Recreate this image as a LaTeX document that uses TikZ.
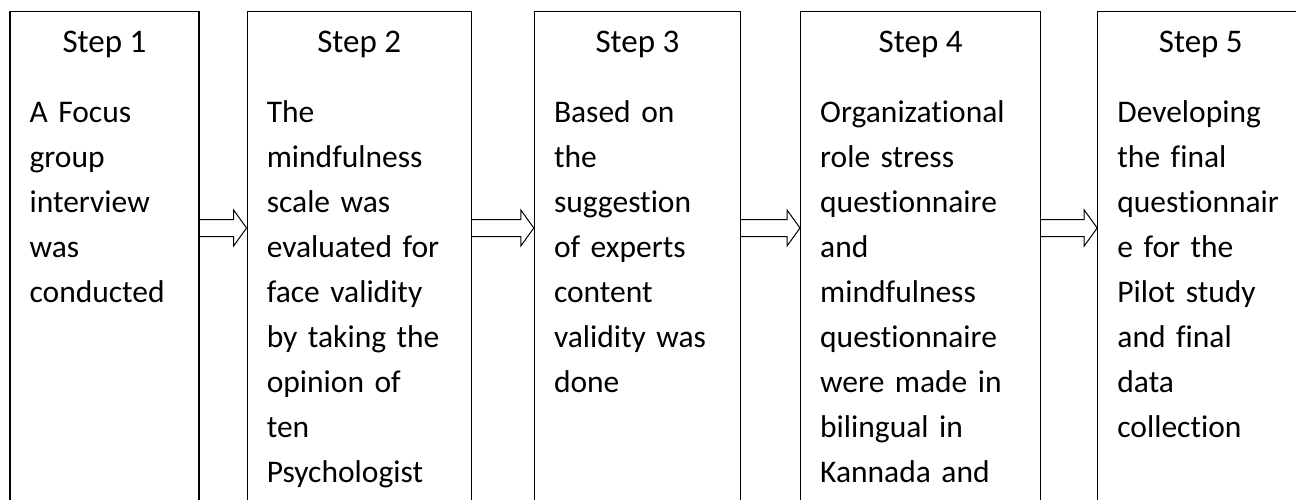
\documentclass[tikz,border=0pt]{standalone}
\usepackage{fontspec}
\setmainfont{Carlito}[Ligatures=NoCommon]
\usetikzlibrary{positioning, calc}

\begin{document}
\begin{tikzpicture} [x=1pt, y=1pt,
            font=\fontsize{31.5}{45}\selectfont,
            stepbox/.style = {draw, line width=1.2pt,
                minimum height=540pt, inner sep=0pt, anchor=north},
            steptitle/.style = {anchor=base, inner sep=0pt,
                font=\fontsize{33}{45}\selectfont},
            steptext/.style = {anchor=base west, inner sep=0pt,
                text width=#1, align=left},
            blockarrow/.style = {draw, line width=1pt, line join=miter,
                to path={($(\tikztostart.north east)+(0,-208.5)$)
                    -- ($(\tikztotarget.north west)+(-13,-208.5)$)
                    -- ($(\tikztotarget.north west)+(-13,-199)$)
                    -- ($(\tikztotarget.north west)+(0,-217)$)
                    -- ($(\tikztotarget.north west)+(-13,-235)$)
                    -- ($(\tikztotarget.north west)+(-13,-225.5)$)
                    -- ($(\tikztostart.north east)+(0,-225.5)$)}}]

        \useasboundingbox (0,0) rectangle (1296,-500);

        % Box 1
        \node (b1) [stepbox, minimum width=189pt] at (104.5,-11) {};

        % Box 2
        \node (b2) [stepbox, minimum width=224pt,
            right = 47pt of b1] {};

        % Box 3
        \node (b3) [stepbox, minimum width=206pt,
            right = 62pt of b2] {};

        % Box 4
        \node (b4) [stepbox, minimum width=240pt,
            right = 59pt of b3] {};

        % Box 5
        \node (b5) [stepbox, minimum width=206pt,
            right = 56pt of b4] {};

        % Titles
        \node (s1) [steptitle] at ($(b1.north)+(0,-42)$) {Step 1};
        \node (s2) [steptitle] at ($(b2.north)+(0,-42)$) {Step 2};
        \node (s3) [steptitle] at ($(b3.north)+(0,-42)$) {Step 3};
        \node (s4) [steptitle] at ($(b4.north)+(0,-42)$) {Step 4};
        \node (s5) [steptitle] at ($(b5.north)+(0,-42)$) {Step 5};

        % Texts
        \node (t1) [steptext=150pt] at ($(b1.north west)+(20,-112)$)
            {A Focus\\ group\\ interview\\ was\\ conducted};
        \node (t2) [steptext=185pt] at ($(b2.north west)+(20,-112)$)
            {The\\ mindfulness\\ scale was\\ evaluated for\\ face validity\\ by taking the\\ opinion of\\ ten\\ Psychologist};
        \node (t3) [steptext=170pt] at ($(b3.north west)+(20,-112)$)
            {Based on\\ the\\ suggestion\\ of experts\\ content\\ validity was\\ done};
        \node (t4) [steptext=205pt] at ($(b4.north west)+(20,-112)$)
            {Organizational\\ role stress\\ questionnaire\\ and\\ mindfulness\\ questionnaire\\ were made in\\ bilingual in\\ Kannada and};
        \node (t5) [steptext=170pt] at ($(b5.north west)+(20,-112)$)
            {Developing\\ the final\\ questionnair\\ e for the\\ Pilot study\\ and final\\ data\\ collection};

        % Arrows
        \path
            (b1) edge [blockarrow] (b2)
            (b2) edge [blockarrow] (b3)
            (b3) edge [blockarrow] (b4)
            (b4) edge [blockarrow] (b5)
            ;
\end{tikzpicture}
\end{document}
